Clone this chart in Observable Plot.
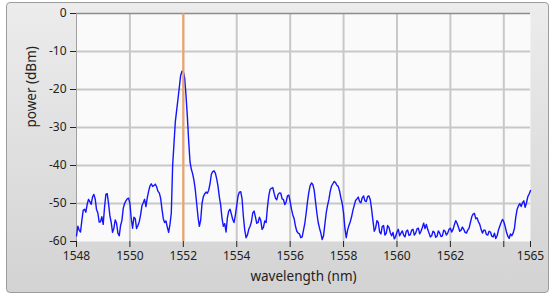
<!DOCTYPE html>
<html><head><meta charset="utf-8">
<script src="https://cdn.jsdelivr.net/npm/d3@7"></script>
<script src="https://cdn.jsdelivr.net/npm/@observablehq/plot@0.6"></script>
<style>
html,body{margin:0;padding:0;background:#fff;}
#wrap{position:relative;width:553px;height:296px;overflow:hidden;}
#panel{position:absolute;left:6px;top:2px;width:543px;height:291px;border:1px solid #9c9c9c;border-radius:4px;background:linear-gradient(#ececec,#d3d3d3);box-sizing:border-box;}
#chart{position:absolute;left:0;top:0;}
</style></head><body>
<div id="wrap"><div id="panel"></div><div id="chart"></div></div>
<script>
// wavelength grid (nm): start and step of the sampled spectrum
const wlStart = 1548;
const wlStep = 0.1;
// measured power (dBm) at 1548.0, 1548.1, ... 1565.0 nm
const power = [
  -58.5,-57.0,-54.5,-51.5,-50.2,-49.5,-48.3,-48.8,-52.5,-54.8,
  -55.5,-47.6,-50.0,-55.0,-56.5,-55.2,-58.5,-54.5,-50.0,-48.8,
  -50.0,-56.5,-54.0,-55.8,-53.0,-49.8,-50.8,-46.8,-44.8,-45.3,
  -45.6,-47.2,-51.5,-55.0,-56.2,-55.5,-40.0,-28.5,-22.5,-16.3,
  -15.3,-21.5,-33.5,-41.0,-44.0,-50.0,-56.0,-50.0,-47.5,-47.3,
  -44.8,-41.6,-42.0,-45.5,-50.5,-56.0,-57.5,-52.0,-52.8,-55.0,
  -50.5,-47.0,-48.8,-57.0,-58.3,-56.0,-52.5,-53.5,-55.0,-54.5,
  -56.3,-55.0,-48.0,-46.0,-47.3,-49.0,-47.2,-48.8,-50.3,-48.0,
  -49.5,-53.0,-56.0,-57.8,-59.0,-57.0,-52.5,-47.0,-44.6,-46.5,
  -52.5,-56.5,-59.5,-55.5,-50.5,-46.8,-44.8,-44.5,-45.5,-48.5,
  -52.5,-59.0,-55.8,-53.5,-50.5,-48.8,-49.5,-48.5,-49.3,-48.2,
  -49.0,-54.5,-56.5,-55.0,-58.0,-55.8,-57.8,-56.3,-58.5,-59.3,
  -57.5,-58.5,-57.2,-58.8,-57.0,-58.2,-56.8,-57.8,-56.5,-57.3,
  -55.2,-55.5,-57.8,-58.5,-57.6,-58.6,-57.8,-58.5,-57.3,-57.8,
  -56.5,-56.8,-54.5,-56.2,-57.0,-56.8,-57.8,-56.5,-53.5,-52.6,
  -53.8,-55.5,-57.8,-57.0,-58.3,-57.5,-58.8,-59.2,-57.0,-55.0,
  -54.8,-57.5,-59.2,-58.5,-56.5,-51.5,-50.0,-49.8,-51.0,-48.2,
  -46.6
];
// measured power (dBm) at the in-between samples 1548.05, 1548.15, ... 1564.95 nm
const powerMid = [
  -56.0,-57.5,-51.8,-52.3,-48.9,-50.2,-47.6,-51.6,-54.9,-53.5,
  -51.0,-47.4,-53.2,-57.6,-54.3,-57.8,-55.8,-51.3,-49.3,-48.6,
  -54.0,-53.6,-56.6,-54.8,-50.6,-48.9,-48.5,-45.4,-45.5,-44.9,
  -46.8,-48.6,-54.0,-54.6,-57.6,-52.5,-34.3,-25.5,-19.4,-15.2,
  -17.0,-27.0,-39.0,-42.2,-46.5,-53.5,-54.4,-48.2,-47.0,-46.5,
  -42.3,-41.4,-43.5,-48.3,-54.0,-55.3,-53.8,-51.5,-54.2,-53.0,
  -48.0,-46.9,-53.5,-59.0,-56.8,-54.8,-52.0,-55.2,-53.6,-56.8,
  -54.6,-51.0,-46.3,-45.8,-48.6,-47.6,-47.3,-49.0,-49.6,-47.8,
  -51.5,-54.0,-57.3,-58.0,-58.8,-55.2,-49.5,-45.3,-45.0,-49.5,
  -55.0,-57.8,-58.5,-52.5,-49.0,-45.4,-44.2,-45.2,-46.7,-50.0,
  -56.5,-57.0,-54.8,-51.8,-49.2,-48.3,-49.8,-48.0,-49.5,-48.0,
  -51.5,-57.3,-54.5,-57.5,-56.0,-58.3,-55.8,-57.7,-57.6,-58.7,
  -56.8,-57.8,-58.3,-57.3,-58.4,-57.0,-58.3,-56.7,-58.0,-56.3,
  -56.6,-56.8,-58.8,-57.3,-58.9,-57.2,-58.7,-57.0,-58.3,-56.8,
  -57.5,-55.6,-55.2,-57.3,-56.2,-57.6,-57.0,-55.0,-52.8,-54.0,
  -54.8,-56.8,-57.0,-58.2,-57.3,-58.6,-57.8,-58.5,-56.0,-54.2,
  -56.0,-58.6,-58.0,-57.8,-53.5,-50.6,-50.8,-49.3,-49.8,-47.5
];
const xTicks = [1548, 1550, 1552, 1554, 1556, 1558, 1560, 1562, 1564, 1565];
const xTickLabels = ["1548", "1550", "1552", "1554", "1556", "1558", "1560", "1562", "", "1565"];
const xGrid = [1550, 1552, 1554, 1556, 1558, 1560, 1562, 1564];
const yTicks = [0, -10, -20, -30, -40, -50, -60];
const yGrid = [-10, -20, -30, -40, -50];
const cursorWl = [1552];
const xLabel = ["wavelength (nm)"];
const yLabel = ["power (dBm)"];

const data = power.map((p, i) => ({wl: wlStart + i * wlStep, p}))
  .concat(powerMid.map((p, i) => ({wl: wlStart + (i + 0.5) * wlStep, p})))
  .sort((a, b) => a.wl - b.wl);

const chart = Plot.plot({
  width: 553, height: 296,
  marginLeft: 76, marginRight: 23, marginTop: 13, marginBottom: 55,
  style: {background: "transparent", fontFamily: "'Noto Sans', sans-serif", fontSize: "12px", color: "#222"},
  x: {domain: [1548, 1565]},
  y: {domain: [-60, 0]},
  marks: [
    Plot.frame({fill: "#fafafa", stroke: null}),
    Plot.gridX(xGrid, {stroke: "#c8c8c8", strokeOpacity: 1, strokeWidth: 2}),
    Plot.gridY(yGrid, {stroke: "#c8c8c8", strokeOpacity: 1, strokeWidth: 2}),
    Plot.ruleY([0], {stroke: "#8c8c8c", strokeWidth: 1.5}),
    Plot.ruleX([1548], {stroke: "#a0a0a0"}),
    Plot.line(data, {x: "wl", y: "p", stroke: "#1414ff", strokeWidth: 1.4}),
    Plot.ruleX(cursorWl, {stroke: "#f0a060", strokeWidth: 2}),
    Plot.axisX({ticks: xTicks, tickFormat: (d) => xTickLabels[xTicks.indexOf(d)], tickSize: 6, tickPadding: 4, label: null}),
    Plot.axisY({ticks: yTicks, tickSize: 6, tickPadding: 4, tickFormat: (d) => String(d), label: null}),
    Plot.text(xLabel, {text: (d) => d, frameAnchor: "bottom", dy: 39, fontSize: 13.5, fill: "#222"}),
    Plot.text(yLabel, {text: (d) => d, frameAnchor: "left", dx: -45, rotate: -90, fontSize: 13.5, fill: "#222"})
  ]
});
document.getElementById("chart").appendChild(chart);
</script>
</body></html>
